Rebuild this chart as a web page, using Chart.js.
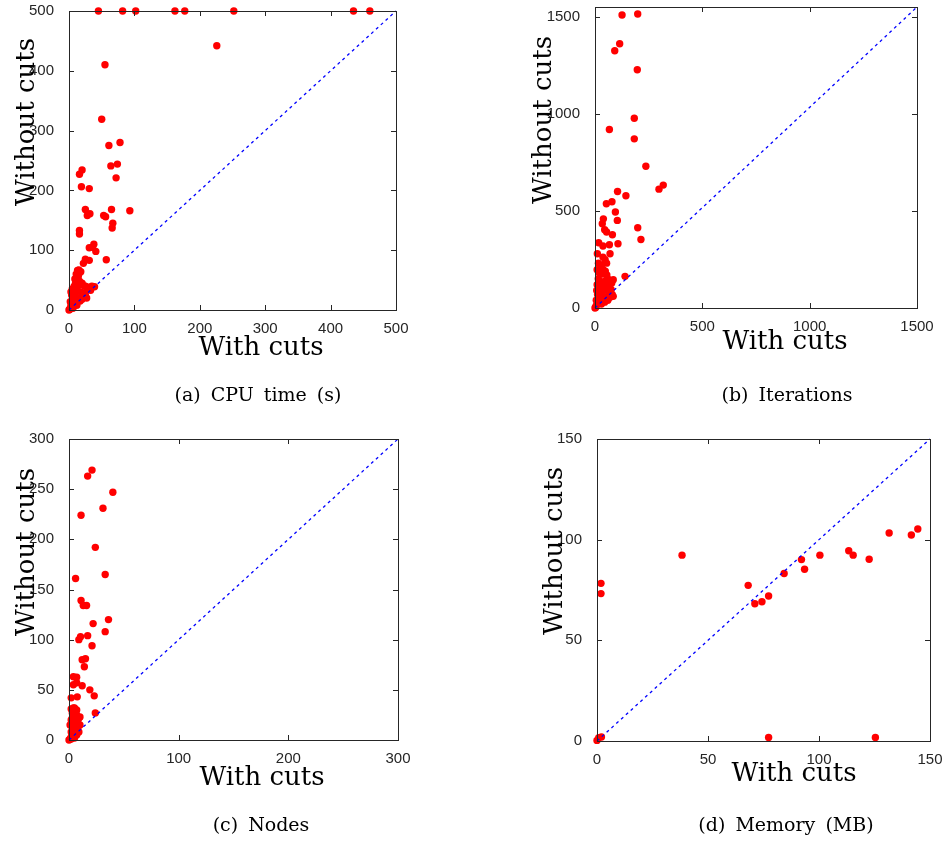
<!DOCTYPE html>
<html>
<head>
<meta charset="utf-8">
<script src="https://cdn.jsdelivr.net/npm/chart.js@4.4.1/dist/chart.umd.min.js"></script>
<style>
  body { margin: 0; background: #fff; }
  #fig { position: relative; width: 944px; height: 841px; overflow: hidden; }
  .panel { position: absolute; width: 472px; height: 420px; }
  .lbl { position: absolute; font-family: "DejaVu Serif", serif; color: #000; white-space: nowrap; transform: translate(-50%, -50%); }
  .axis { font-size: 26px; }
  .ylab { transform: translate(-50%, -50%) rotate(-90deg); }
  .cap { font-size: 19px; word-spacing: 4px; }
</style>
</head>
<body>
<div id="fig">
  <div class="panel" style="left:0;top:0"><canvas id="cpu"></canvas></div>
  <div class="panel" style="left:472px;top:0"><canvas id="iter"></canvas></div>
  <div class="panel" style="left:0;top:420px"><canvas id="nodes"></canvas></div>
  <div class="panel" style="left:472px;top:420px"><canvas id="mem"></canvas></div>

  <div class="lbl axis ylab" style="left:25px;top:122px">Without cuts</div>
  <div class="lbl axis" style="left:261px;top:346px">With cuts</div>
  <div class="lbl cap" style="left:258px;top:394px">(a) CPU time (s)</div>

  <div class="lbl axis ylab" style="left:542px;top:120px">Without cuts</div>
  <div class="lbl axis" style="left:785px;top:340px">With cuts</div>
  <div class="lbl cap" style="left:787px;top:394px">(b) Iterations</div>

  <div class="lbl axis ylab" style="left:25px;top:552px">Without cuts</div>
  <div class="lbl axis" style="left:262px;top:776px">With cuts</div>
  <div class="lbl cap" style="left:261px;top:824px">(c) Nodes</div>

  <div class="lbl axis ylab" style="left:553px;top:551px">Without cuts</div>
  <div class="lbl axis" style="left:794px;top:772px">With cuts</div>
  <div class="lbl cap" style="left:786px;top:824px">(d) Memory (MB)</div>
</div>
<script>
// (a) CPU time (s)
const cpuWith = [45, 82, 102, 162, 177, 252, 435, 460, 226, 55, 50, 61, 78, 64, 74, 72, 16, 20, 19, 31,
  25, 65, 28, 32, 53, 56, 93, 67, 66, 16, 16, 38, 31, 41, 36, 57, 25, 22, 31, 15, 14, 19, 24, 32, 39,
  2, 3, 4, 5, 6, 7, 8, 10, 3, 5, 8, 10, 12, 14, 15, 18, 12, 15, 20, 25, 30, 35, 18, 22, 25, 15, 20,
  10, 12, 6, 1, 2, 0, 4, 9, 11, 13, 16, 28, 33, 27, 22, 17, 7];
const cpuWithout = [500, 500, 500, 500, 500, 500, 500, 500, 442, 410, 319, 275, 280, 241, 244, 221, 227, 234, 206, 203,
  168, 168, 158, 161, 158, 156, 166, 145, 137, 133, 127, 110, 104, 98, 105, 84, 85, 78, 83, 67, 58, 42, 40, 36, 39,
  3, 8, 5, 12, 15, 20, 25, 30, 30, 35, 40, 45, 50, 55, 60, 64, 38, 42, 45, 40, 38, 40, 30, 28, 25, 20, 18,
  12, 8, 3, 1, 14, 0, 25, 52, 60, 66, 48, 35, 33, 20, 22, 15, 6];
const cpuTicks = [0, 100, 200, 300, 400, 500];

// (b) Iterations
const iterWith = [126, 199, 115, 92, 197, 183, 67, 183, 237, 298, 318, 105, 144, 53, 79, 95, 104, 39, 34, 45,
  54, 81, 199, 214, 17, 37, 67, 107, 11, 37, 70, 47, 54, 16, 10, 38, 140, 85, 62, 57, 78,
  5, 10, 15, 20, 25, 30, 35, 40, 45, 50, 60, 55, 10, 15, 20, 25, 30, 8, 12, 18, 40, 50, 60, 70,
  80, 45, 30, 3, 0, 6, 22, 35, 48, 62, 75, 85, 40, 28, 50, 65];
const iterWithout = [1509, 1514, 1361, 1325, 1227, 977, 919, 871, 730, 612, 633, 600, 578, 537, 547, 494, 451, 459, 434, 403,
  391, 377, 413, 353, 336, 319, 326, 331, 279, 262, 279, 249, 231, 231, 197, 197, 163, 146, 137, 103, 129,
  10, 20, 35, 50, 60, 80, 95, 110, 125, 140, 150, 170, 120, 150, 180, 200, 220, 90, 70, 100, 60, 50, 40, 55,
  70, 30, 20, 3, 0, 40, 140, 175, 190, 115, 95, 60, 90, 130, 100, 80];
const iterXTicks = [0, 500, 1000, 1500];
const iterYTicks = [0, 500, 1000, 1500];

// (c) Nodes
const nodesWith = [21, 17, 40, 31, 11, 24, 33, 6, 11, 13, 16, 36, 22, 33, 17, 9, 10.5, 21, 12, 15,
  14, 4, 7, 4, 7, 12, 19, 23, 2, 7.5, 24, 4, 5, 7, 10,
  1, 2, 3, 2, 4, 3, 5, 4, 6, 5, 7, 3, 6, 8, 9, 7, 5, 2, 1, 3, 6, 8, 4, 0, 2, 10, 9, 5, 2];
const nodesWithout = [269, 263, 247, 231, 224, 192, 165, 161, 139, 134, 134, 120, 116, 108, 104, 100, 103, 94, 80, 81,
  73, 63, 62.5, 55, 57, 54, 50, 44, 42, 43, 27, 32, 32, 30, 23,
  1, 3, 5, 8, 10, 13, 15, 18, 20, 23, 25, 27, 28, 12, 8, 5, 2, 20, 15, 22, 16, 18, 6, 0, 1, 15, 22, 30, 31];
const nodesTicks = [0, 100, 200, 300];
const nodesYTicks = [0, 50, 100, 150, 200, 250, 300];

// (d) Memory (MB)
const memWith = [38.3, 1.8, 1.8, 68.1, 71.1, 74.3, 77.3, 84.3, 92.1, 93.5, 100.4, 113.4, 115.4, 122.6,
  131.6, 141.6, 144.5, 77.3, 125.4, 0, 0.8, 2];
const memWithout = [92.3, 78.3, 73.2, 77.3, 68.2, 69.2, 72, 83.2, 90.1, 85.3, 92.3, 94.5, 92.3, 90.3,
  103.3, 102.3, 105.3, 1.8, 1.8, 0.3, 1.7, 2];
const memTicks = [0, 50, 100, 150];

const INK = '#262626';
const TICK_LEN = 5;
const TICK_FONT = { family: '"Liberation Sans", Arial, sans-serif', size: 15 };

// box with inward tick marks on all four sides, like the original figure
const boxTicks = {
  id: 'boxTicks',
  afterDraw(chart) {
    const { ctx, chartArea: a, scales } = chart;
    ctx.save();
    ctx.strokeStyle = INK;
    ctx.lineWidth = 1;
    ctx.beginPath();
    scales.x.ticks.forEach(t => {
      const px = Math.round(scales.x.getPixelForValue(t.value)) + 0.5;
      ctx.moveTo(px, a.bottom); ctx.lineTo(px, a.bottom - TICK_LEN);
      ctx.moveTo(px, a.top); ctx.lineTo(px, a.top + TICK_LEN);
    });
    scales.y.ticks.forEach(t => {
      const py = Math.round(scales.y.getPixelForValue(t.value)) + 0.5;
      ctx.moveTo(a.left, py); ctx.lineTo(a.left + TICK_LEN, py);
      ctx.moveTo(a.right, py); ctx.lineTo(a.right - TICK_LEN, py);
    });
    ctx.stroke();
    ctx.strokeRect(Math.round(a.left) + 0.5, Math.round(a.top) + 0.5,
      Math.round(a.right - a.left), Math.round(a.bottom - a.top));
    ctx.restore();
  }
};

function noPad(s) {
  s.paddingTop = 0; s.paddingBottom = 0; s.paddingLeft = 0; s.paddingRight = 0;
}

function makeScatter(id, xs, ys, opt) {
  const pts = xs.map((x, i) => ({ x: x, y: ys[i] }));
  new Chart(document.getElementById(id), {
    type: 'scatter',
    data: {
      datasets: [
        {
          data: [{ x: 0, y: 0 }, { x: opt.xMax, y: opt.yMax }],
          showLine: true,
          borderColor: '#0000ff',
          borderWidth: 1.3,
          borderDash: [3, 3.5],
          pointRadius: 0,
          clip: false
        },
        {
          data: pts,
          pointRadius: 3.7,
          pointBackgroundColor: '#ff0000',
          pointBorderWidth: 0,
          clip: false
        }
      ]
    },
    options: {
      responsive: false,
      animation: false,
      events: [],
      layout: { padding: { top: opt.top, right: 472 - opt.right, left: 0, bottom: 0 } },
      plugins: { legend: { display: false }, tooltip: { enabled: false } },
      scales: {
        x: {
          type: 'linear',
          min: 0, max: opt.xMax,
          grid: { display: false },
          border: { display: false },
          afterBuildTicks: s => { s.ticks = opt.xTicks.map(v => ({ value: v })); },
          afterFit: s => { s.height = 420 - opt.bottom; noPad(s); },
          ticks: { color: INK, font: TICK_FONT, padding: 2, maxRotation: 0, callback: v => String(v) }
        },
        y: {
          type: 'linear',
          min: 0, max: opt.yMax,
          grid: { display: false },
          border: { display: false },
          afterBuildTicks: s => { s.ticks = opt.yTicks.map(v => ({ value: v })); },
          afterFit: s => { s.width = opt.left; noPad(s); },
          ticks: { color: INK, font: TICK_FONT, padding: 7, callback: v => String(v) }
        }
      }
    },
    plugins: [boxTicks]
  });
}

function sizeCanvas(id) {
  const c = document.getElementById(id);
  c.width = 472; c.height = 420;
  c.style.width = '472px'; c.style.height = '420px';
}
['cpu', 'iter', 'nodes', 'mem'].forEach(sizeCanvas);

makeScatter('cpu', cpuWith, cpuWithout,
  { xMax: 500, yMax: 500, xTicks: cpuTicks, yTicks: cpuTicks, left: 69, top: 11, right: 396, bottom: 310 });
makeScatter('iter', iterWith, iterWithout,
  { xMax: 1500, yMax: 1550, xTicks: iterXTicks, yTicks: iterYTicks, left: 123, top: 7, right: 445, bottom: 308 });
makeScatter('nodes', nodesWith, nodesWithout,
  { xMax: 300, yMax: 300, xTicks: nodesTicks, yTicks: nodesYTicks, left: 69, top: 19, right: 398, bottom: 320 });
makeScatter('mem', memWith, memWithout,
  { xMax: 150, yMax: 150, xTicks: memTicks, yTicks: memTicks, left: 125, top: 19, right: 458, bottom: 321 });
</script>
</body>
</html>
